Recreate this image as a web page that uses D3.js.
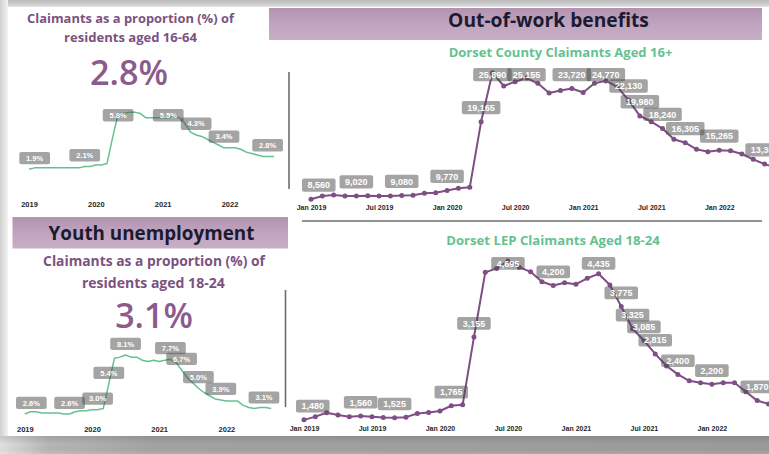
<!DOCTYPE html>
<html>
<head>
<meta charset="utf-8">
<script src="https://cdn.jsdelivr.net/npm/d3@7"></script>
<style>
  html, body { margin: 0; padding: 0; background: #fff; overflow: hidden; }
  svg { display: block; }
</style>
</head>
<body>
<svg id="dash" width="769" height="454"></svg>
<script>
// ---- Data -------------------------------------------------------------
const months = [
  "Jan 2019","Feb 2019","Mar 2019","Apr 2019","May 2019","Jun 2019","Jul 2019","Aug 2019","Sep 2019","Oct 2019","Nov 2019","Dec 2019",
  "Jan 2020","Feb 2020","Mar 2020","Apr 2020","May 2020","Jun 2020","Jul 2020","Aug 2020","Sep 2020","Oct 2020","Nov 2020","Dec 2020",
  "Jan 2021","Feb 2021","Mar 2021","Apr 2021","May 2021","Jun 2021","Jul 2021","Aug 2021","Sep 2021","Oct 2021","Nov 2021","Dec 2021",
  "Jan 2022","Feb 2022","Mar 2022","Apr 2022","May 2022","Jun 2022","Jul 2022","Aug 2022","Sep 2022"
];
const yearTicks = ["Jan 2019","Jan 2020","Jan 2021","Jan 2022"];
const monthTicks = ["Jan 2019","Jul 2019","Jan 2020","Jul 2020","Jan 2021","Jul 2021","Jan 2022"];

// Claimants as % of residents aged 16-64
const rate1664 = [
  1.9, 2.0, 2.0, 2.0, 2.0, 2.0, 2.0, 2.0, 2.0, 2.0, 2.1, 2.1,
  2.2, 2.2, 2.3, 4.1, 5.8, 5.8, 5.9, 5.9, 5.8, 5.5, 5.5, 5.5,
  5.5, 5.5, 5.6, 5.5, 5.1, 4.5, 4.3, 4.2, 4.0, 3.8, 3.6, 3.4,
  3.4, 3.4, 3.3, 3.1, 3.0, 2.9, 2.8, 2.8, 2.8
];
const rate1664Labels = [0, 10, 16, 25, 30, 35, 44];

// Claimants as % of residents aged 18-24
const rate1824 = [
  2.6, 2.8, 2.8, 2.7, 2.7, 2.7, 2.7, 2.6, 2.6, 2.8, 2.9, 2.9,
  3.0, 3.0, 3.1, 5.4, 7.8, 7.9, 8.1, 7.9, 7.9, 7.6, 7.5, 7.6,
  7.5, 7.6, 7.7, 7.4, 6.7, 6.0, 5.5, 5.0, 4.6, 4.3, 4.0, 3.9,
  3.8, 3.8, 3.8, 3.4, 3.2, 3.1, 3.2, 3.2, 3.1
];
const rate1824Labels = [0, 8, 13, 15, 18, 26, 28, 31, 35, 44];

// Dorset County claimants aged 16+
const county16 = [
  8560, 9010, 9150, 9010, 9020, 9050, 9010, 9010, 9080, 9105, 9380, 9460,
  9770, 10065, 10200, 19165, 25890, 24070, 24660, 25155, 24440, 23110, 23450, 23720,
  23180, 24440, 24770, 23970, 22130, 19980, 19180, 18240, 16770, 16305, 15400, 15070,
  15265, 15210, 14760, 14030, 13380, 12900
];
const county16Labels = [0, 4, 8, 12, 15, 16, 19, 23, 26, 28, 29, 31, 33, 36, 40];

// Dorset LEP claimants aged 18-24
const lep1824 = [
  1480, 1545, 1625, 1580, 1545, 1560, 1545, 1530, 1525, 1535, 1610, 1630,
  1660, 1765, 1785, 3155, 4465, 4545, 4695, 4570, 4475, 4275, 4200, 4255,
  4225, 4345, 4435, 4210, 3775, 3325, 3085, 2815, 2570, 2400, 2270, 2230,
  2200, 2230, 2230, 2050, 1870, 1800
];
const lep1824Labels = [0, 5, 8, 13, 15, 18, 22, 26, 28, 29, 30, 31, 33, 36, 40];

// ---- Styling ----------------------------------------------------------
const PURPLE = "#7e4e84";
const GREEN = "#66c191";
const TITLE_PURPLE = "#7b5281";
const BIG_PURPLE = "#8b5b8e";
const HEAD_TEXT = "#1b1a30";
const UI_FONT = "'Open Sans', 'Noto Sans', sans-serif";
const NUM_FONT = "'Liberation Sans', Arial, sans-serif";

const svg = d3.select("#dash");
const defs = svg.append("defs");

function linGrad(id, x2, y2, stops) {
  const g = defs.append("linearGradient").attr("id", id)
    .attr("x1", 0).attr("y1", 0).attr("x2", x2).attr("y2", y2);
  stops.forEach(([o, c]) => g.append("stop").attr("offset", o).attr("stop-color", c));
}
linGrad("gTop", 0, 1, [[0, "#bcbcbc"], [0.6, "#cdcdcd"], [1, "#e6e6e6"]]);
linGrad("gLeft", 1, 0, [[0, "#d0d0d0"], [1, "#f2f2f2"]]);
linGrad("gBottomH", 1, 0, [[0, "#e2e2e2"], [0.06, "#b8b8b8"], [0.2, "#a4a4a4"], [1, "#9c9c9c"]]);
linGrad("gBottomV", 0, 1, [[0, "rgba(0,0,0,0.12)"], [0.5, "rgba(0,0,0,0)"], [1, "rgba(255,255,255,0.12)"]]);
linGrad("gHead", 0, 1, [[0, "#b193b0"], [0.5, "#c0a4bf"], [1, "#c8aec7"]]);

// ---- Frame ------------------------------------------------------------
svg.append("rect").attr("width", 769).attr("height", 454).attr("fill", "#fff");
svg.append("rect").attr("x", 0).attr("y", 0).attr("width", 769).attr("height", 7).attr("fill", "url(#gTop)");
svg.append("rect").attr("x", 0).attr("y", 0).attr("width", 8).attr("height", 437).attr("fill", "url(#gLeft)");
svg.append("rect").attr("x", 0).attr("y", 436).attr("width", 769).attr("height", 18).attr("fill", "url(#gBottomH)");
svg.append("rect").attr("x", 0).attr("y", 436).attr("width", 769).attr("height", 18).attr("fill", "url(#gBottomV)");

// Section headers
svg.append("rect").attr("x", 269).attr("y", 8).attr("width", 493).attr("height", 32).attr("fill", "url(#gHead)");
svg.append("rect").attr("x", 12.5).attr("y", 217).attr("width", 275.5).attr("height", 31.5).attr("fill", "url(#gHead)");

// Separators
const sep = svg.append("g").attr("stroke", "#6d6d6d").attr("stroke-width", 1.6);
sep.append("line").attr("x1", 289).attr("x2", 289).attr("y1", 72).attr("y2", 189);
sep.append("line").attr("x1", 285.5).attr("x2", 285.5).attr("y1", 290).attr("y2", 407);
sep.append("line").attr("x1", 302).attr("x2", 762).attr("y1", 221).attr("y2", 221);

// ---- Text helpers -----------------------------------------------------
function fitText(str, cx, baseline, width, size, color, weight, family) {
  const t = svg.append("text").text(str)
    .attr("x", cx).attr("y", baseline)
    .attr("text-anchor", "middle")
    .attr("font-family", family || UI_FONT)
    .attr("font-weight", weight || "bold")
    .attr("font-size", size)
    .attr("fill", color);
  const len = t.node().getComputedTextLength();
  if (len > 0) t.attr("font-size", size * width / len);
  return t;
}
const pct = v => d3.format(".1f")(v) + "%";

fitText("Claimants as a proportion (%) of", 130.5, 22.5, 207, 14.5, TITLE_PURPLE);
fitText("residents aged 16-64", 130.5, 41.7, 133, 14.5, TITLE_PURPLE);
fitText(pct(rate1664[rate1664.length - 1]), 129, 85, 78, 37, BIG_PURPLE, 600);

fitText("Out-of-work benefits", 548.5, 27.3, 201, 19, HEAD_TEXT);
fitText("Dorset County Claimants Aged 16+", 560.5, 57, 224, 14, GREEN);

fitText("Youth unemployment", 151.5, 240, 206, 19, HEAD_TEXT);
fitText("Claimants as a proportion (%) of", 154, 266, 222, 15.5, TITLE_PURPLE);
fitText("residents aged 18-24", 153.3, 287.5, 143, 15.5, TITLE_PURPLE);
fitText(pct(rate1824[rate1824.length - 1]), 154, 328.3, 77.7, 35, BIG_PURPLE, 600);

fitText("Dorset LEP Claimants Aged 18-24", 553, 245, 214, 14, GREEN);

// ---- Chart drawing ----------------------------------------------------
function drawAxis(x, ticks, format, baseline, size) {
  const ax = d3.axisBottom(x).tickValues(ticks).tickFormat(format).tickSize(0).tickPadding(0);
  const g = svg.append("g").attr("transform", `translate(0,${baseline - 0.71 * size})`).call(ax);
  g.select(".domain").remove();
  g.selectAll("text")
    .attr("font-family", NUM_FONT).attr("font-weight", "bold")
    .attr("font-size", size).attr("fill", "#262626");
}

function drawSeries(o) {
  const pts = o.values.map((v, i) => ({ m: months[i], v }));
  const g = svg.append("g");
  g.append("path").datum(pts)
    .attr("fill", "none").attr("stroke", o.color).attr("stroke-width", o.lw)
    .attr("stroke-linejoin", "round")
    .attr("d", d3.line().x(d => o.x(d.m)).y(d => o.y(d.v)));
  if (o.dot) {
    g.selectAll("circle").data(pts).join("circle")
      .attr("cx", d => o.x(d.m)).attr("cy", d => o.y(d.v)).attr("r", o.dot)
      .attr("fill", o.color);
  }
  const boxes = g.append("g");
  const texts = g.append("g");
  o.labels.map(i => pts[i]).forEach(d => {
    const t = texts.append("text").text(o.fmt(d.v))
      .attr("text-anchor", "middle")
      .attr("font-family", NUM_FONT).attr("font-weight", "bold")
      .attr("font-size", o.fs).attr("fill", "#fff");
    const w = t.node().getComputedTextLength() + 2 * o.padX;
    let bx = o.x(d.m) - w / 2;
    bx = Math.max(bx, o.clamp.left);
    bx = Math.min(bx, o.clamp.right - w);
    const by = Math.max(o.y(d.v) - o.gap - o.boxH, o.clamp.top);
    boxes.append("rect").attr("x", bx).attr("y", by)
      .attr("width", w).attr("height", o.boxH).attr("rx", 2)
      .attr("fill", "#4a4a4a").attr("fill-opacity", 0.5);
    t.attr("x", bx + w / 2).attr("y", by + o.boxH / 2 + o.fs * 0.36);
  });
}

// Claimant rate 16-64 (small trend)
{
  const x = d3.scalePoint().domain(months).range([29, 274.1]);
  const y = d3.scaleLinear().domain([1.5, 6.0]).range([175.0, 110.7]);
  drawSeries({ values: rate1664, x, y, color: GREEN, lw: 1.5, dot: 0,
    labels: rate1664Labels, fmt: pct, fs: 7.5, padX: 6.8, boxH: 12.4, gap: 5,
    clamp: { left: 19.3, right: 283, top: 109 } });
  drawAxis(x, yearTicks, d => d.slice(4), 207.3, 7.5);
}

// Claimant rate 18-24 (small trend)
{
  const x = d3.scalePoint().domain(months).range([24.8, 271.2]);
  const y = d3.scaleLinear().domain([2.0, 8.5]).range([420.4, 350.7]);
  drawSeries({ values: rate1824, x, y, color: GREEN, lw: 1.5, dot: 0,
    labels: rate1824Labels, fmt: pct, fs: 7.5, padX: 6.8, boxH: 12.2, gap: 5,
    clamp: { left: 16, right: 279.3, top: 330 } });
  drawAxis(x, yearTicks, d => d.slice(4), 431.7, 7.5);
}

// Dorset County claimants 16+
{
  const x = d3.scalePoint().domain(months).range([311, 311 + 44 * 11.34]);
  const y = d3.scaleLinear().domain([8000, 26000]).range([203.4, 71.9]);
  drawSeries({ values: county16, x, y, color: PURPLE, lw: 2, dot: 2.5,
    labels: county16Labels, fmt: d3.format(","), fs: 9, padX: 5.5, boxH: 13.3, gap: 7.5,
    clamp: { left: 302, right: 2000, top: 68 } });
  drawAxis(x, monthTicks, d => d, 210, 7);
}

// Dorset LEP claimants 18-24
{
  const x = d3.scalePoint().domain(months).range([304, 304 + 44 * 11.33]);
  const y = d3.scaleLinear().domain([1200, 4800]).range([433.7, 255.8]);
  drawSeries({ values: lep1824, x, y, color: PURPLE, lw: 2, dot: 2.5,
    labels: lep1824Labels, fmt: d3.format(","), fs: 9, padX: 5.5, boxH: 12.7, gap: 7.3,
    clamp: { left: 296, right: 2000, top: 257 } });
  drawAxis(x, monthTicks, d => d, 431, 7);
}
</script>
</body>
</html>
